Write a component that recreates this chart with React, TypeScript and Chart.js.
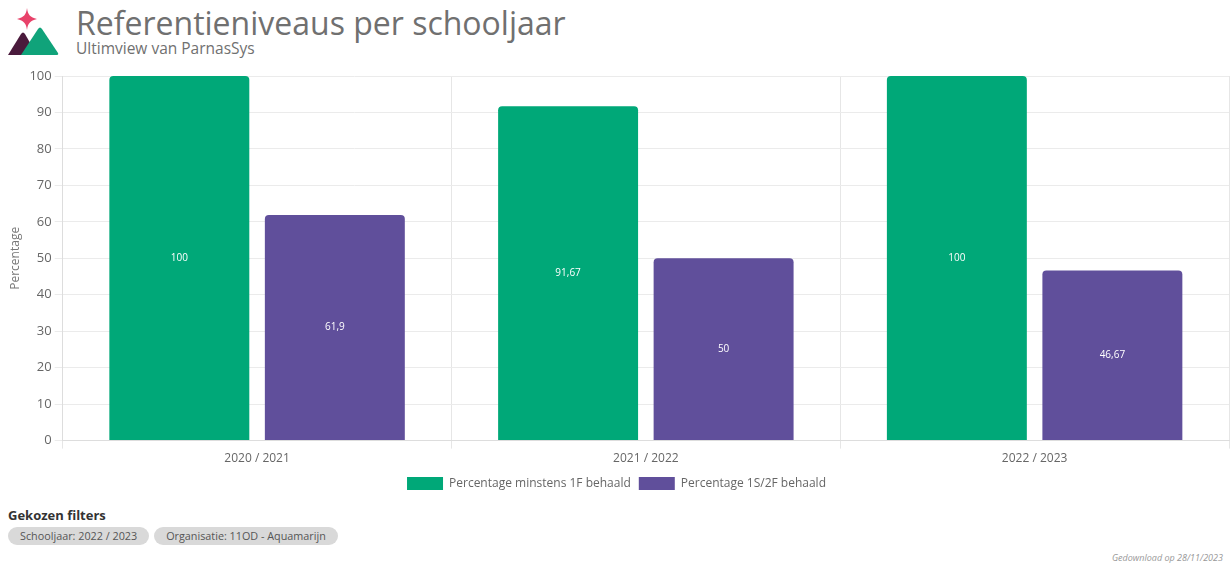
import React, { useEffect, useRef } from "react";
import { Chart, registerables } from "chart.js";

Chart.register(...registerables);

const categories = ["2020 / 2021", "2021 / 2022", "2022 / 2023"];
const seriesNames = ["Percentage minstens 1F behaald", "Percentage 1S/2F behaald"];
const series1F = [100, 91.67, 100];
const series2F = [61.9, 50, 46.67];
const yTicks = [0, 10, 20, 30, 40, 50, 60, 70, 80, 90, 100];
const filters = ["Schooljaar: 2022 / 2023", "Organisatie: 11OD - Aquamarijn"];

const GREEN = "#00a878";
const PURPLE = "#604f9b";
const FONT = "'Open Sans', 'Noto Sans', sans-serif";

const fmt = (v: number) => String(v).replace(".", ",");

const labelPlugin = {
  id: "barLabels",
  afterDatasetsDraw(chart: any) {
    const ctx = chart.ctx;
    ctx.save();
    ctx.fillStyle = "#ffffff";
    ctx.font = `10px ${FONT}`;
    ctx.textAlign = "center";
    ctx.textBaseline = "middle";
    chart.data.datasets.forEach((ds: any, i: number) => {
      const meta = chart.getDatasetMeta(i);
      meta.data.forEach((bar: any, j: number) => {
        const v = ds.data[j];
        const y = (bar.y + bar.base) / 2;
        ctx.fillText(fmt(v), bar.x, y);
      });
    });
    ctx.restore();
  },
};

function Logo() {
  return (
    <svg width="52" height="50" viewBox="0 0 52 50" style={{ position: "absolute", left: 7, top: 7 }}>
      <path d="M20 1 C21 8 23 10 30 12 C23 14 21 16 20 23 C19 16 17 14 10 12 C17 10 19 8 20 1 Z" fill="#e8426a" />
      <path d="M1 48 L14 27 Q16 24 18 27 L30 48 Z" fill="#4a1a3c" />
      <path d="M14 48 L31 22 Q33 19 35 22 L51 46 Q52 48 49 48 Z" fill="#10a37a" />
    </svg>
  );
}

export default function App() {
  const ref = useRef<HTMLCanvasElement>(null);
  useEffect(() => {
    document.body.style.margin = "0";
    const chart = new Chart(ref.current!, {
      type: "bar",
      data: {
        labels: categories,
        datasets: [
          { label: seriesNames[0], data: series1F, backgroundColor: GREEN, borderRadius: 4, borderSkipped: "start" },
          { label: seriesNames[1], data: series2F, backgroundColor: PURPLE, borderRadius: 4, borderSkipped: "start" },
        ],
      },
      options: {
        animation: false,
        responsive: false,
        maintainAspectRatio: false,
        layout: { padding: { top: 16, right: 2, left: 4, bottom: 0 } },
        plugins: {
          legend: {
            position: "bottom",
            labels: { boxWidth: 36, boxHeight: 13, color: "#666", font: { family: FONT, size: 12 }, padding: 8 },
          },
          tooltip: { enabled: false },
        },
        scales: {
          x: {
            grid: { color: "#e6e6e6" },
            border: { color: "#dddddd" },
            ticks: { color: "#666", font: { family: FONT, size: 12 } },
          },
          y: {
            min: 0,
            max: 100,
            afterBuildTicks: (axis: any) => {
              axis.ticks = yTicks.map((v) => ({ value: v }));
            },
            grid: { color: "#ebebeb" },
            border: { color: "#dddddd" },
            ticks: { color: "#666", font: { family: FONT, size: 13 } },
            title: { display: true, text: "Percentage", color: "#777", font: { family: FONT, size: 12 } },
          },
        },
      },
      plugins: [labelPlugin],
    });
    return () => chart.destroy();
  }, []);

  return (
    <div style={{ position: "relative", width: 1231, height: 564, background: "#fff", fontFamily: FONT, overflow: "hidden" }}>
      <Logo />
      <div style={{ position: "absolute", left: 76, top: 3, fontSize: 32, color: "#707070", lineHeight: "40px", whiteSpace: "nowrap" }}>
        Referentieniveaus per schooljaar
      </div>
      <div style={{ position: "absolute", left: 76, top: 38, fontSize: 15.5, color: "#707070", lineHeight: "20px", whiteSpace: "nowrap" }}>
        Ultimview van ParnasSys
      </div>
      <canvas ref={ref} width={1231} height={440} style={{ position: "absolute", left: 0, top: 60, width: 1231, height: 440 }} />
      <div style={{ position: "absolute", left: 8, top: 506, fontSize: 13, fontWeight: 700, color: "#333", lineHeight: "18px" }}>
        Gekozen filters
      </div>
      <div style={{ position: "absolute", left: 8, top: 527, display: "flex", gap: 5 }}>
        {filters.map((f) => (
          <div key={f} style={{ background: "#d9d9d9", borderRadius: 9, padding: "0 12px", height: 18, lineHeight: "18px", fontSize: 10.8, color: "#555", whiteSpace: "nowrap" }}>
            {f}
          </div>
        ))}
      </div>
      <div style={{ position: "absolute", right: 8, top: 552, fontSize: 9, fontStyle: "italic", color: "#999", lineHeight: "12px", whiteSpace: "nowrap" }}>
        Gedownload op 28/11/2023
      </div>
    </div>
  );
}
